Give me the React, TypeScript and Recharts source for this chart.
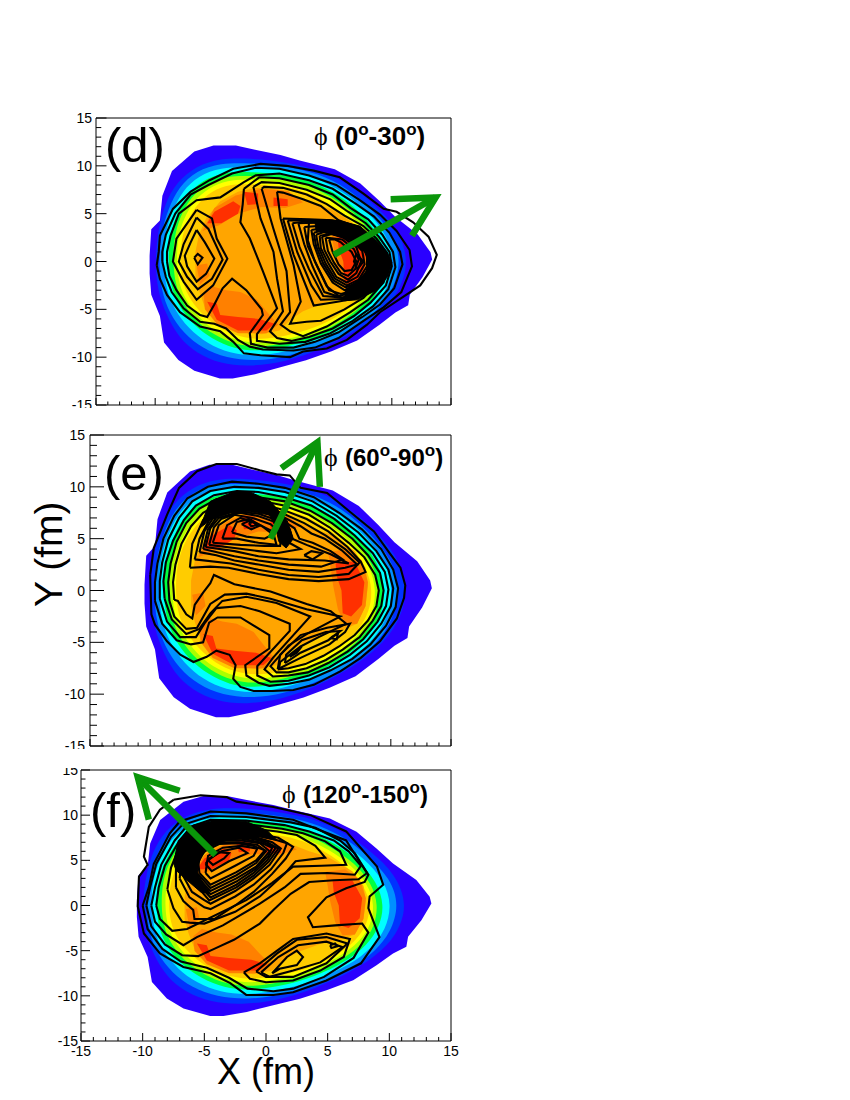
import { ScatterChart, Scatter, XAxis, YAxis, ReferenceArea } from 'recharts';

type Loop = number[][];

const AXIS_TICKS = [-15, -14, -13, -12, -11, -10, -9, -8, -7, -6, -5, -4, -3, -2, -1, 0, 1, 2, 3, 4, 5, 6, 7, 8, 9, 10, 11, 12, 13, 14, 15];
const MAJOR_TICKS = [-15, -10, -5, 0, 5, 10, 15];

// Colour bands of the density map, outermost first (same in the three panels)
const bandColors = ['#2a00ff', '#0033ff', '#0090ff', '#00ffff', '#00ff40', '#aaff00', '#ffff00', '#ffcc00'];
const bandLoops: Loop[] = [
  [[-10.47,-1.26],[-10.33,-3.47],[-9.6,-5.69],[-9.25,-8.46],[-8.04,-10.3],[-6.69,-11.41],[-4.53,-12.23],[-3.45,-12.23],[-1.56,-11.78],[0.59,-11.05],[2.75,-10.31],[4.91,-9.38],[7.07,-8.27],[8.96,-6.61],[10.3,-5.32],[11.38,-4.58],[11.52,-3.47],[12.6,-1.63],[13.41,0.22],[13.27,0.96],[12.19,2.81],[10.3,4.65],[8.96,6.32],[7.34,8.16],[5.18,9.64],[2.21,10.56],[0.59,11.12],[-1.56,11.67],[-3.18,12.12],[-5.07,12.12],[-6.69,11.49],[-8.58,9.46],[-9.39,6.87],[-9.6,4.29],[-10.33,3.36],[-10.47,0.59]],
  [[11.5,0],[10.5,3.5],[8.5,6],[6.5,8],[4,9.6],[1,10.4],[-2,10.8],[-4.5,10.8],[-6.5,10],[-8.2,8.3],[-9.2,6],[-9.8,3],[-10,0],[-9.8,-3],[-9.1,-5.5],[-8,-8],[-6.5,-9.6],[-4.5,-10.7],[-2,-11],[1,-10.5],[4,-9.2],[7,-7.3],[9,-5.5],[10.6,-3.3]],
  [[10.8,0],[10.1,3],[8.2,5.6],[6.2,7.7],[3.8,9.2],[1,10],[-2,10.3],[-4.5,10.3],[-6.5,9.5],[-8,7.8],[-8.9,5.5],[-9.5,3],[-9.7,0],[-9.5,-3],[-8.8,-5.4],[-7.6,-7.5],[-6,-9.1],[-4,-10.1],[-1.5,-10.4],[1,-10],[4,-8.8],[7,-7],[8.9,-5],[10.1,-3]],
  [[10.2,0],[9.6,2.8],[7.9,5.3],[5.9,7.3],[3.6,8.8],[1,9.6],[-2,9.9],[-4.5,9.8],[-6.3,9],[-7.7,7.4],[-8.6,5.2],[-9.2,2.8],[-9.3,0],[-9.1,-2.8],[-8.4,-5],[-7.2,-7],[-5.6,-8.6],[-3.7,-9.6],[-1.5,-9.9],[1,-9.5],[4,-8.3],[6.8,-6.6],[8.6,-4.7],[9.7,-2.7]],
  [[9.6,0],[9,2.6],[7.5,5],[5.6,6.9],[3.4,8.3],[1,9.1],[-2,9.4],[-4.3,9.3],[-6,8.5],[-7.3,7],[-8.2,4.9],[-8.8,2.6],[-8.9,0],[-8.7,-2.6],[-8,-4.7],[-6.8,-6.6],[-5.2,-8.1],[-3.4,-9.1],[-1.4,-9.4],[1,-9],[4,-7.9],[6.5,-6.2],[8.2,-4.4],[9.2,-2.4]],
  [[9.1,0],[8.6,2.4],[7.2,4.7],[5.3,6.5],[3.2,7.9],[1,8.7],[-2,9],[-4.1,8.9],[-5.7,8.1],[-7,6.7],[-7.9,4.7],[-8.4,2.5],[-8.5,0],[-8.3,-2.5],[-7.6,-4.5],[-6.5,-6.3],[-5,-7.7],[-3.2,-8.7],[-1.3,-9],[1,-8.6],[3.8,-7.6],[6.3,-5.9],[7.9,-4.2],[8.8,-2.3]],
  [[8.8,0],[8.3,2.3],[6.9,4.5],[5.1,6.2],[3.1,7.5],[1,8.3],[-2,8.6],[-3.9,8.5],[-5.5,7.7],[-6.7,6.4],[-7.6,4.5],[-8.1,2.4],[-8.2,0],[-8,-2.4],[-7.3,-4.3],[-6.2,-6],[-4.8,-7.4],[-3,-8.3],[-1.2,-8.6],[1,-8.2],[3.6,-7.3],[6,-5.7],[7.6,-4],[8.5,-2.2]],
  [[8.5,0],[8,2.2],[6.6,4.3],[4.9,5.9],[3,7.2],[1,7.9],[-2,8.1],[-3.7,8.1],[-5.2,7.4],[-6.4,6.1],[-7.3,4.3],[-7.8,2.3],[-7.9,0],[-7.7,-2.3],[-7,-4.1],[-5.9,-5.7],[-4.6,-7],[-2.9,-7.9],[-1.1,-8.2],[1,-7.8],[3.5,-7],[5.8,-5.5],[7.3,-3.9],[8.2,-2.1]],
];
const orangeArea: Loop = [[-6.6,1],[-6.6,-1.5],[-6.3,-3],[-5.8,-4.8],[-4.8,-6.3],[-3,-7.3],[-1,-7.6],[0.5,-7.2],[1.5,-6],[2.5,-5.2],[4.5,-4.2],[6,-3.8],[7.2,-3.2],[7.9,-1.5],[8.1,0.5],[7.9,2.2],[7,3.8],[6,4.6],[5,5.4],[3.5,6],[2,6.8],[0.5,7.5],[-1.5,7.7],[-3,7.3],[-4.5,6.3],[-5.7,4.5],[-6.3,2.8]];
const darkOrangeAreas: Loop[] = [
  [[-5.9,-3.4],[-5.2,-2.6],[-4,-3],[-2.8,-3.2],[-1.4,-4],[-0.6,-5.2],[0.4,-6.6],[-0.6,-7.5],[-3,-7.5],[-4.8,-6.5],[-5.8,-5]],
  [[4.8,3.7],[6.4,4],[7.6,2.9],[8.1,0.8],[7.9,-1.5],[7.2,-3.2],[6.2,-3.3],[5.6,-1.8],[5.2,0.5],[5,2.2]],
  [[-6,3.2],[-5,5.6],[-3.2,6.9],[-1,7.6],[1.2,7.4],[2.5,6.2],[1,5.6],[-1,5.7],[-3,5],[-4.6,3.8]],
  [[-6.5,-0.4],[-5.6,-0.2],[-5.4,-1.5],[-6.2,-2.4]],
];
const redAreas: Loop[] = [
  [[-5.6,-4.2],[-4.8,-4.4],[-4.5,-5.6],[-3,-5.8],[-1.2,-6],[0.1,-6.5],[-0.6,-7.2],[-3,-7.2],[-4.8,-6.1]],
  [[5.4,2.7],[7,2.8],[7.8,0.8],[7.6,-1.4],[6.7,-2.5],[6,-2.2],[5.9,0],[5.5,1.4]],
  [[-5.6,4],[-5,5.2],[-3.4,6.3],[-2.8,5.8],[-3,5],[-4.4,4]],
  [[-2.5,7.3],[-1.3,7.1],[-1.3,6],[-2.2,5.9]],
  [[0,6.7],[1.2,6.5],[1.2,5.8],[0,5.8]],
];

// Panel (d) contours
const dDense: Loop = [[3.5,4.2],[5.5,4.3],[7.3,3.7],[8.6,2.3],[9.6,1],[10,-0.1],[9.7,-1.5],[8.7,-3],[7.1,-4],[6,-4.1],[6.1,-2.9],[7,-2.1],[7.8,-1.2],[8,0],[7.7,1],[6.9,1.9],[5.8,2.5],[4.6,2.9],[3.6,3.2]];
const dLoops: Loop[] = [
  [[-9.87,-0.4],[-9.6,-1.8],[-9,-3.5],[-7.9,-5.3],[-6.2,-6.8],[-4.5,-7.3],[-3.4,-8.4],[-2.5,-9.6],[-1.1,-9.8],[1.4,-10],[2.5,-9.4],[4.5,-9.1],[6.2,-8.2],[7.9,-6.6],[9,-5.3],[10.7,-3.9],[12.4,-2.5],[13.4,-0.7],[13.8,0.7],[13.1,2.6],[11.8,4.1],[10.4,5.2],[9.3,5.5],[7.6,7.1],[5.6,8.8],[3.4,9.5],[1.1,10],[-1.1,10.2],[-3.4,9.7],[-5.4,8.5],[-7,7.3],[-8.5,5.5],[-9.6,2.7],[-9.7,1],[-9.87,-0.4]],
  [[-9.4,0],[-9.1,-1.6],[-8.6,-3.2],[-7.6,-4.9],[-6.2,-6.3],[-5,-6.5],[-4,-7],[-3,-8.2],[-2,-8.9],[-0.9,-9.2],[1.7,-9.3],[3.5,-9],[5.5,-8],[7.6,-6.2],[9.3,-4.8],[10.8,-3.2],[11.7,-0.5],[11.5,1.2],[10.4,3.2],[9,4.9],[7.2,6.5],[5.3,8],[3,9],[0.5,9.7],[-1.5,9.8],[-3.5,9.2],[-5.5,8],[-7,7],[-8.3,5],[-9.1,2.8],[-9.4,1],[-9.4,0]],
  [[-9,0],[-8.8,-1.5],[-8.2,-3],[-7.3,-4.6],[-6.2,-5.6],[-5.6,-5.8],[-5,-4.5],[-4.3,-2.8],[-3.5,-1.8],[-2.3,-3],[-1,-5],[-0.9,-5.6],[-2,-7.5],[-1.9,-8.6],[-0.5,-9],[1.7,-9],[3.5,-8.4],[5.5,-7.4],[7.5,-5.8],[9,-4.5],[10.2,-2.8],[10.9,-0.3],[10.7,1],[9.8,3],[8.5,4.7],[7,6],[5,7.6],[3,8.5],[0.5,9.2],[-1.5,9],[-2.5,8.3],[-4.5,6.7],[-6.5,6.4],[-8,5],[-8.7,2.7],[-9,1],[-9,0]],
  [[-2.5,7.6],[-2.6,6],[-2.8,4.1],[-2,2.4],[-0.9,-1],[0.3,-4.9],[-1.4,-7.6],[-1.4,-8.3],[0.5,-8.6],[2.7,-8.4],[4.8,-7.5],[6.7,-6.2],[8.4,-4.7],[9.7,-2.9],[10.3,-0.6],[10.1,1],[9.2,2.8],[8,4.4],[6.5,5.6],[5,7],[3,8],[0.5,8.7],[-1.2,8.8],[-2.5,7.6]],
  [[-1.7,7.8],[-1.1,4.5],[0,1],[0.3,-1.8],[0.8,-5.2],[-0.3,-7.3],[0.3,-8],[1.5,-8.3],[3,-7.9],[5,-7],[6.8,-5.7],[8.2,-4.3],[9.5,-2.5],[10,-0.5],[9.8,1],[8.9,2.6],[7.8,4],[6.3,5.2],[4.8,6.5],[2.8,7.5],[0.5,8.2],[-1,8.3],[-1.7,7.8]],
  [[-1,7.6],[0,3.4],[1.1,-1],[1.4,-5.3],[0.6,-6.6],[1.4,-7.3],[2.5,-7.8],[4.5,-6.8],[6.5,-5.3],[8,-4],[9.3,-2.2],[9.8,-0.4],[9.6,0.9],[8.7,2.4],[7.6,3.7],[6,4.8],[4.5,6],[2.8,7],[0.8,7.7],[-0.8,7.8],[-1,7.6]],
  [[0.3,7.3],[0.6,4.5],[1.7,-0.4],[2.3,-4.2],[1.4,-6.5],[2.8,-6.3],[4,-6.2],[6,-5],[7.6,-3.8],[9,-2],[9.6,-0.3],[9.4,0.8],[8.5,2.2],[7.3,3.5],[5.5,4.3],[4,5.8],[2.5,6.5],[0.8,7.2],[0.3,7.3]],
  [[0.8,4.5],[1.7,0.7],[3.4,-4.6],[5.4,-4.2],[6.8,-3.9],[8.6,-2],[9.4,-0.2],[9.1,1],[8.2,2.4],[7,3.7],[5,4.3],[3,4.4],[0.8,4.5]],
  [[1.2,4.3],[2,1],[3.2,-2.5],[4,-4],[6.5,-3.9],[8.4,-2],[9.2,-0.2],[9,1],[8.1,2.4],[6.9,3.7],[4.7,4.3],[2.9,4.3],[1.2,4.3]],
  [[1.6,4],[2.2,1.5],[3,-0.8],[4.2,-3.6],[6.2,-3.8],[8.2,-2],[9,-0.3],[8.8,1],[8,2.3],[6.8,3.6],[4.5,4.2],[2.8,4.2],[1.6,4]],
  [[2.1,4],[2.6,1.8],[3.3,-0.5],[4.3,-3.2],[5.8,-3.8],[7.7,-2.7],[8.8,-1],[8.9,0.5],[8.1,2],[6.9,3.4],[4.8,4.1],[2.1,4]],
  [[2.6,3.6],[2.9,1.6],[3.7,-0.5],[4.7,-3],[5.7,-3.4],[7.1,-2.9],[8.3,-1.3],[8.6,0.2],[8,1.7],[6.8,3.1],[4.8,3.8],[2.6,3.6]],
  [[3,4.1],[2.9,2.2],[3.5,0],[4.5,-2.6],[5.5,-3.6],[7,-3.2],[8.4,-1.6],[8.7,0],[8.3,1.6],[7,3.3],[5,4],[3,4.1]],
  [[3.2,3.3],[3.4,1.8],[4,-0.2],[5,-2.2],[6,-3],[7.3,-2.5],[8.2,-1],[8.4,0.3],[7.8,1.8],[6.6,3],[4.8,3.6],[3.2,3.3]],
  [[3.4,3],[3.6,1.6],[4.2,-0.2],[5.1,-2],[6.1,-2.7],[7.2,-2.2],[8,-0.8],[8.1,0.5],[7.4,2],[6.2,3],[4.6,3.4],[3.4,3]],
  [[3.6,2.8],[3.8,1.5],[4.4,-0.2],[5.2,-1.8],[6.2,-2.5],[7.2,-1.9],[7.9,-0.5],[7.9,0.8],[7,2.2],[5.8,3],[4.5,3.2],[3.6,2.8]],
  [[3.9,2.7],[4,1.4],[4.6,-0.1],[5.3,-1.6],[6.2,-2.2],[7.1,-1.6],[7.7,-0.3],[7.5,1.1],[6.5,2.4],[5.4,3],[3.9,2.7]],
  [[4.1,2.6],[4.3,1.2],[4.8,0],[5.5,-1.3],[6.3,-1.9],[7,-1.2],[7.4,0],[7,1.5],[5.9,2.5],[5,2.9],[4.1,2.6]],
  [[4.4,2.5],[4.6,1.1],[5.1,-0.1],[5.7,-1.2],[6.3,-1.5],[6.9,-0.8],[7.2,0.2],[6.8,1.3],[5.8,2.3],[4.4,2.5]],
  [[4.7,2.3],[5,1],[5.5,-0.3],[6,-1],[6.6,-0.9],[7,0],[6.6,1],[5.7,2],[5.2,2.3],[4.7,2.3]],
  [[7,0.8],[6.8,0],[7.1,-0.8],[7.6,0],[7,0.8]],
  [[-6.5,5.4],[-5.2,4.5],[-4.8,2.4],[-3.9,0.3],[-5.1,-2.5],[-6.5,-4],[-7.6,-2.1],[-8.5,0],[-8.2,2.4],[-6.5,5.4]],
  [[-6.5,4.6],[-5.5,3.4],[-4.6,1],[-4.3,0.2],[-5.2,-1.8],[-6.4,-2.9],[-7.3,-1.6],[-8,0],[-7.6,1.8],[-6.5,4.6]],
  [[-6.5,3.3],[-5.8,2],[-5,0.3],[-5.7,-1.3],[-6.5,-2.1],[-7.3,-0.5],[-7.5,0.6],[-7,2],[-6.5,3.3]],
  [[-6.7,0.4],[-6.4,0.8],[-6,0.4],[-6.4,-0.3],[-6.7,0.4]],
];
const dArrow: Loop[] = [[[5.1,0.7],[13.7,6.7]], [[9.9,6.5],[13.7,6.7],[11.7,2.7]]];

// Panel (e) contours
const eDense: Loop = [[-5.9,6],[-5,8.6],[-3.1,9.5],[-1.7,9.5],[0,8.6],[1.4,6.7],[1.9,5],[1.3,4.1],[0.7,4.7],[0.4,6.2],[-0.1,7.3],[-1.7,7.6],[-3.3,7.5],[-5,6.8]];
const eLoops: Loop[] = [
  [[-10,1.5],[-9.7,4.1],[-8.6,7.3],[-7.6,9.9],[-6.1,11.5],[-4.5,12.2],[-2.8,12.2],[-0.9,11.6],[0.5,11.2],[1.6,11.1],[2.5,9.9],[4.7,9.4],[6.6,7.6],[8.6,5.7],[9.9,3.6],[10.8,2.2],[11.2,0.5],[11.1,-0.7],[10.5,-2.7],[9.1,-4.9],[7.5,-6.5],[5.8,-7.8],[3.6,-9.1],[1.9,-9.6],[0.2,-9.7],[-1.4,-9.7],[-2.5,-9.3],[-3.1,-8.5],[-2.9,-7.2],[-3.4,-6.2],[-4.5,-5.8],[-5.3,-6.4],[-6.4,-6.9],[-7.5,-6.2],[-8.6,-4.9],[-9.6,-3.3],[-9.9,-2.3],[-10,1.5]],
  [[-9.6,-1],[-9.6,0.8],[-9.4,2.6],[-8.9,5],[-8,7.2],[-6.9,8.9],[-5.2,10],[-3.2,10.5],[-1,10.3],[1.2,9.9],[3.6,9],[5.7,7.5],[7.6,5.9],[9.2,4],[10.2,2],[10.6,0.2],[10.4,-1.6],[9.6,-3.4],[8.3,-5.2],[6.8,-6.6],[5,-7.7],[3.2,-8.6],[1.5,-9],[-0.1,-9.2],[-1,-8.9],[-2,-8.2],[-2.1,-7.2],[-0.1,-5.6],[-0.1,-4.3],[-2.5,-2.6],[-4.4,-2.6],[-5.1,-3.1],[-5.6,-5],[-6.6,-5.2],[-7.8,-4.8],[-9,-3.2],[-9.6,-1]],
  [[-9.2,-0.8],[-9.2,0.9],[-9,2.7],[-8.5,4.9],[-7.6,7],[-6.5,8.6],[-5,9.6],[-3,10],[-1,9.9],[1.2,9.5],[3.5,8.6],[5.5,7.2],[7.3,5.6],[8.8,3.8],[9.8,2],[10.2,0.2],[10,-1.5],[9.2,-3.2],[8,-4.9],[6.6,-6.2],[4.9,-7.4],[3.2,-8.2],[1.5,-8.7],[0,-8.8],[-1.1,-8.2],[-1.1,-7.3],[1.6,-3.9],[1.6,-3.2],[-0.9,-2],[-2.5,-1.5],[-4.5,-1.7],[-5.5,-3.2],[-6.2,-4.5],[-7.5,-4.5],[-8.6,-3],[-9.2,-0.8]],
  [[-8.8,-0.8],[-8.9,0.9],[-8.7,2.7],[-8.1,4.8],[-7.2,6.8],[-6.2,8.2],[-4.7,9.2],[-2.8,9.6],[-1,9.5],[1.2,9],[3.4,8.2],[5.3,6.9],[7,5.3],[8.5,3.6],[9.5,1.8],[9.8,0.1],[9.6,-1.5],[8.9,-3],[7.7,-4.7],[6.4,-5.9],[4.8,-7],[3.1,-7.9],[1.5,-8.2],[0.2,-8.3],[-0.5,-7.6],[0.2,-6.5],[3.3,-2.5],[0.5,-1.2],[-2,-0.6],[-4,-1],[-5,-2.2],[-5.9,-3.7],[-7,-4.2],[-8.2,-2.8],[-8.8,-0.8]],
  [[-8.4,-1],[-8.5,0.8],[-8.3,2.6],[-7.8,4.7],[-7,6.5],[-5.9,7.9],[-4.5,8.8],[-2.6,9.2],[-1,9],[1.2,8.6],[3.3,7.7],[5.1,6.5],[6.8,5],[8.1,3.4],[9.1,1.7],[9.4,0],[9.2,-1.5],[8.5,-2.9],[7.4,-4.5],[6,-5.7],[4.6,-6.7],[3,-7.5],[1.5,-7.9],[0.5,-7.9],[0,-7.3],[1.5,-5.3],[3,-4.2],[5.8,-2.5],[3,-1.8],[0,-0.8],[-2,-0.3],[-3.8,-0.4],[-5,-1.3],[-6.1,-3.6],[-7,-3.7],[-8,-2.5],[-8.4,-1]],
  [[-8,-0.9],[-8.1,0.8],[-7.9,2.5],[-7.4,4.5],[-6.6,6.2],[-5.6,7.5],[-4.2,8.4],[-2.4,8.8],[-1,8.7],[1.1,8.2],[3.2,7.3],[4.9,6.1],[6.5,4.6],[7.8,3.2],[8.7,1.5],[9,0],[8.8,-1.5],[8.1,-2.9],[7,-4.3],[5.7,-5.4],[4.4,-6.3],[2.9,-7.1],[1.5,-7.5],[0.7,-7.6],[0.8,-6.9],[2.5,-5.4],[4,-4.5],[6.3,-3.2],[5,-2],[3,-1.3],[0,-0.1],[-3,0.6],[-4.7,1.5],[-5,0.7],[-5.6,-0.2],[-6.3,-1.4],[-6.5,-2.7],[-7,-2.3],[-7.7,-1],[-8,-0.9]],
  [[-6.7,2.2],[-6.5,4.5],[-5.6,6.8],[-4.4,8.1],[-2.4,8.5],[-0.9,8.4],[1,7.8],[3,6.9],[4.8,5.7],[6.4,4.2],[7.5,2.8],[7.9,1.8],[6.5,1.1],[4,0.9],[1.5,1.1],[-1,1.6],[-3.5,2.2],[-5,2.3],[-6.7,2.2]],
  [[-6.3,3],[-5.9,5],[-5,7],[-3.5,8],[-1.5,8.2],[0.9,7.5],[2.8,6.5],[4.6,5.3],[6.2,4],[7.4,2.7],[6.5,1.6],[4,1.3],[1.5,1.5],[-1,2],[-3.3,2.6],[-6.3,3]],
  [[-5.9,3.7],[-5.5,5.7],[-4.6,7.3],[-2.6,8],[-0.9,8],[0.9,7.2],[2.5,6.2],[3.4,5.5],[4.5,5],[5.9,3.9],[7.2,2.5],[6.2,2.2],[4,1.8],[1.5,2],[-1,2.5],[-3,2.9],[-4.5,3.4],[-5.9,3.7]],
  [[-5.6,4],[-5.2,5.9],[-4.4,7.2],[-2.6,7.8],[-1,7.7],[0.7,7],[2,6],[2.4,5],[3.5,4.6],[5,3.8],[6,3],[4.2,2.3],[1.5,2.5],[-1,2.9],[-3,3.3],[-5.6,4]],
  [[-5.4,4.2],[-5,6],[-4.3,7],[-2.6,7.6],[-1,7.4],[0.5,6.8],[1.6,5.9],[1.8,5],[3,4.4],[5,3.5],[6.5,2.6],[4.5,2.9],[1.5,3],[-1,3.3],[-3,3.8],[-5.4,4.2]],
  [[-5.1,4.4],[-4.7,6.1],[-4.1,6.9],[-2.6,7.5],[-1.1,7.2],[0.4,6.6],[1.3,5.7],[1.4,4.7],[2.5,4],[0.5,3.6],[-1,3.8],[-3,4.1],[-5.1,4.4]],
  [[2.8,3.4],[3.5,3],[4.3,3.6],[3.4,3.8],[2.8,3.4]],
  [[-4.8,4.6],[-4.3,6.3],[-3,7.3],[-1.5,7],[0,6.4],[0.9,5.5],[0.8,4.3],[-0.5,4.3],[-2.5,4.4],[-4.8,4.6]],
  [[-4,5],[-3.6,6.3],[-2.5,7],[-1.2,6.5],[0.2,5.7],[0.5,4.4],[-1,4.6],[-2.8,5],[-4,5]],
  [[-3.2,5.6],[-2.8,6.6],[-1.8,6.9],[-0.7,6.2],[0.2,5.4],[-0.5,5],[-2,5.2],[-3.2,5.6]],
  [[-2.4,6.4],[-1.6,6.8],[-1,6.2],[-1.6,5.9],[-2.4,6.4]],
  [[-1.8,6.5],[-1.4,6.6],[-1.2,6.3],[-1.6,6.2],[-1.8,6.5]],
  [[0.6,-7.6],[2.5,-6.5],[4.9,-5.2],[6.2,-4],[6.6,-3.2],[4.7,-3.6],[2.5,-4.3],[0.8,-6.2],[0.6,-7.6]],
  [[1.2,-7],[2.5,-6],[4.8,-4.8],[5.8,-3.9],[4.6,-4],[2.6,-4.8],[1.3,-6.2],[1.2,-7]],
  [[1.6,-6.4],[2.6,-5.4],[2.2,-6],[1.6,-6.4]],
  [[5.2,-4.4],[5.6,-4.2],[5.5,-4.7],[5,-4.6],[5.2,-4.4]],
];
const eArrow: Loop[] = [[[0,5],[3.9,14.3]], [[0.9,11.8],[3.9,14.3],[4.1,10]]];

// Panel (f) contours
const fDense: Loop = [[-7.5,4.7],[-7.1,7.2],[-5.9,8.9],[-4,9.5],[-1.6,9.3],[0.1,8.3],[0.9,7.2],[-0.5,7.6],[-3.2,7.2],[-4.5,6.5],[-5.3,5.4],[-5.6,3.6],[-4.8,1.9],[-4.5,1.3],[-5.3,1.5],[-6.4,2.8],[-7.3,3.9]];
const fLoops: Loop[] = [
  [[-7.5,11.7],[-5.3,12.2],[-3.2,12],[-2.4,11.5],[0.6,10.9],[3.6,10],[6.5,8.2],[9,4.3],[9.5,2.3],[8.4,1],[8.3,-0.3],[9.2,-3.5],[7.7,-6.4],[4.9,-8.3],[2.2,-9.6],[0.6,-9.9],[-1.6,-9.9],[-2.9,-8.6],[-4.5,-7.5],[-6.7,-6.8],[-8.6,-5.3],[-9.9,-3.1],[-10.4,-0.1],[-10.3,3.2],[-9.6,4.5],[-9.9,5.4],[-9.5,8.7],[-8.6,10.6],[-7.5,11.7]],
  [[-10,0],[-9.6,-2.6],[-8.4,-4.8],[-6.9,-6.2],[-4.8,-6.9],[-3,-8],[-1.5,-9.2],[0.6,-9.5],[2.2,-9.2],[4.7,-7.9],[7.1,-5.8],[8.3,-3],[7.8,-2],[5.6,-2.2],[3.8,-2.4],[3.4,-1.3],[4.9,0.9],[6.5,1.9],[8,2.6],[8.3,3.4],[7.7,4.6],[6.5,7.2],[2.2,9.5],[-1.6,10.2],[-4.5,10.4],[-7,9.3],[-7.8,8],[-9.1,4.6],[-9.5,2],[-10,0]],
  [[-9.7,0],[-9.3,-2.3],[-8.2,-4.3],[-6.8,-5.5],[-5.5,-5.6],[-4.2,-4.8],[-2.6,-3.8],[-0.5,-2],[0.6,-0.5],[2,1.3],[3.5,2.6],[5.5,2.8],[7.5,2.9],[8.2,3.6],[7.2,5.8],[6,7.2],[4,8.6],[2,9.2],[-1.6,9.8],[-4.5,9.9],[-6.8,8.9],[-7.7,7.6],[-8.9,4.6],[-9.4,2],[-9.7,0]],
  [[-9.3,0],[-9,-1.8],[-8.1,-3.2],[-6.7,-4.4],[-5.6,-3.5],[-3.5,-2.2],[-0.5,0.2],[1.5,2],[2.8,3.5],[5,3.6],[7.2,3.4],[7.7,4.4],[6.7,6],[5.5,7.2],[3.5,8.2],[1.5,8.9],[-1.6,9.4],[-4.5,9.5],[-6.6,8.5],[-7.4,7.2],[-8.5,4.5],[-9,2],[-9.3,0]],
  [[-8.9,0],[-8.6,-1.5],[-7.6,-2.8],[-6.4,-2.6],[-1.6,0.6],[0.5,2.5],[2.2,4.3],[4.5,4.4],[6.5,4.5],[6,6],[4.8,7.1],[3,8],[1.3,8.5],[-1.6,9],[-4.4,9.1],[-6.4,8.2],[-7.1,7],[-8.2,4.4],[-8.7,2],[-8.9,0]],
  [[-8,1.8],[-7.5,-0.3],[-6.8,-1.8],[-6.2,-1.9],[-5,-2],[-2.5,-0.7],[-0.5,1],[1.5,3.5],[2.4,4.9],[4.8,5.3],[4,6.6],[2.5,7.8],[0.9,8.2],[-1.6,8.6],[-4.3,8.7],[-6.2,7.8],[-7,6.6],[-7.7,4.2],[-8,1.8]],
  [[-7.3,2],[-6.7,0.5],[-5.9,-0.5],[-5.8,-1.5],[-4.2,-1.5],[-2.5,0],[-1,1.5],[0.5,3.5],[1.6,5.2],[2.2,6.5],[1,7.5],[-1.6,8.2],[-4.1,8.3],[-6,7.5],[-6.9,6.2],[-7.3,4],[-7.3,2]],
  [[-7,3],[-6.2,0.9],[-5,-0.2],[-4.5,-0.4],[-2.5,1],[-1,2.3],[0.4,4],[1.4,5.8],[1.7,6.9],[0.7,7.3],[-1.6,8],[-4,8.2],[-5.9,7.4],[-6.8,6],[-7,3]],
  [[-6.8,3.5],[-6,1.5],[-5,0.6],[-4.5,0.2],[-2.5,1.6],[-1,3],[0.3,4.5],[1.2,6.3],[0.5,7],[-1.6,7.9],[-4,8],[-5.8,7.2],[-6.6,5.8],[-6.8,3.5]],
  [[-6.5,3.6],[-4.6,0.55],[-2.4,2],[-1,3.3],[0.2,4.8],[1,6.3],[0,7.1],[-2,7.8],[-4,7.8],[-5.7,7],[-6.4,5.6],[-6.5,3.6]],
  [[-6.3,3.6],[-4.5,0.9],[-2.4,2.3],[-1,3.6],[0.1,5],[0.8,6.4],[-0.5,7.2],[-2,7.6],[-4,7.6],[-5.6,6.8],[-6.2,5.4],[-6.3,3.6]],
  [[-6,3.5],[-4.5,1.25],[-2.4,2.65],[-0.9,4],[0.2,5.5],[0.5,6.4],[-0.5,7],[-2,7.4],[-4,7.4],[-5.4,6.5],[-6,5.2],[-6,3.5]],
  [[-5.8,3.5],[-4.5,1.6],[-2.4,3],[-0.8,4.3],[0.3,6],[-0.5,6.9],[-2,7.2],[-4,7.2],[-5.3,6.3],[-5.9,5],[-5.8,3.5]],
  [[-5.6,3.6],[-4.5,1.95],[-2.4,3.35],[-0.8,4.7],[0,6],[-0.7,6.7],[-2.2,7],[-3.9,7],[-5.2,6.1],[-5.7,4.9],[-5.6,3.6]],
  [[-5.4,3.6],[-4.5,2.3],[-2.4,3.7],[-0.8,5],[-0.1,6.1],[-1,6.6],[-2.3,6.9],[-3.8,6.8],[-5,6],[-5.5,4.8],[-5.4,3.6]],
  [[-4.9,3.6],[-4.5,3],[-2.5,4.4],[-1,5.5],[-0.7,6.3],[-2,6.6],[-3.5,6.4],[-4.7,5.5],[-4.9,3.6]],
  [[-4.9,4.6],[-4.4,3.8],[-3,4.9],[-1.5,5.8],[-2.2,6.4],[-3.6,6],[-4.6,5.2],[-4.9,4.6]],
  [[-4.7,5],[-4.3,4.5],[-3.4,5.2],[-3,5.8],[-3.8,5.9],[-4.7,5]],
  [[-1.8,-7.4],[-0.5,-6.4],[0.9,-5],[2.2,-3.7],[4.9,-3.1],[6.8,-3.7],[6.3,-5.7],[4.4,-7.2],[2.2,-8.3],[0,-8.5],[-1.3,-8.1],[-1.8,-7.4]],
  [[-0.8,-7.3],[0.9,-5.3],[2.5,-3.8],[4.9,-3.5],[6.6,-4.2],[4.9,-6.4],[2.2,-7.9],[0,-7.9],[-0.8,-7.3]],
  [[-0.4,-7.4],[1,-5.7],[2.6,-4.4],[4.9,-4],[6.2,-4.6],[4.4,-6.3],[2.2,-7.2],[0.3,-7.9],[-0.4,-7.4]],
  [[0.5,-7.5],[1.7,-5.7],[2.5,-5],[3,-5.7],[2.5,-6.6],[1.1,-7],[0.5,-7.5]],
  [[5.2,-4.4],[5.6,-4.2],[5.8,-4.5],[5.3,-4.7],[5.2,-4.4]],
];
const fArrow: Loop[] = [[[-4.1,5.6],[-10.4,14.2]], [[-7,12.7],[-10.4,14.2],[-9.5,9.5]]];

const toPoints = (loop: Loop) => loop.map(([x, y]) => ({ x, y }));
const NoPoint = () => null;
const FONT = '"Liberation Sans", Arial, sans-serif';

interface PanelProps {
  top: number;
  height: number;
  plotLeft: number;
  plotTop: number;
  plotBottom: number;
  yMajor: number;
  xMajor: number;
  labelGap: number;
  showX: boolean;
  dense: Loop;
  loops: Loop[];
  arrow: Loop[];
}

const Panel = ({ top, height, plotLeft, plotTop, plotBottom, yMajor, xMajor, labelGap, showX, dense, loops, arrow }: PanelProps) => {
  const renderYTick = ({ x, y, payload }: any) => {
    const major = MAJOR_TICKS.includes(payload.value);
    return (
      <g>
        <line x1={x} x2={x + (major ? yMajor : yMajor / 2)} y1={y} y2={y} stroke="#000" />
        {major && (
          <text x={x - labelGap} y={y + 5} textAnchor="end" fontSize={14} fontFamily={FONT} fill="#000">{payload.value}</text>
        )}
      </g>
    );
  };
  const renderXTick = ({ x, y, payload }: any) => {
    const major = MAJOR_TICKS.includes(payload.value);
    return (
      <g>
        <line x1={x} x2={x} y1={y} y2={y - (major ? xMajor : xMajor / 2)} stroke="#000" />
        {major && showX && (
          <text x={x} y={y + 15} textAnchor="middle" fontSize={14} fontFamily={FONT} fill="#000">{payload.value}</text>
        )}
      </g>
    );
  };

  return (
    <div style={{ position: 'absolute', left: 0, top, width: 480, height, overflow: 'hidden', background: '#fff' }}>
      <ScatterChart
        width={480}
        height={height}
        margin={{ top: plotTop - top, left: plotLeft - 40, right: 29, bottom: top + height - plotBottom - 1 }}
      >
        <XAxis
          type="number"
          dataKey="x"
          domain={[-15, 15]}
          ticks={AXIS_TICKS}
          interval={0}
          height={1}
          axisLine={false}
          tickLine={false}
          tickSize={0}
          tickMargin={0}
          tick={renderXTick}
        />
        <YAxis
          type="number"
          dataKey="y"
          domain={[-15, 15]}
          ticks={AXIS_TICKS}
          interval={0}
          width={40}
          axisLine={false}
          tickLine={false}
          tickSize={0}
          tickMargin={0}
          tick={renderYTick}
        />
        {bandLoops.map((loop, i) => (
          <Scatter key={`band-${i}`} data={toPoints(loop)} shape={NoPoint} isAnimationActive={false}
            line={{ fill: bandColors[i], stroke: 'none' }} lineJointType={i === 0 ? 'linearClosed' : 'basisClosed'} />
        ))}
        <Scatter data={toPoints(orangeArea)} shape={NoPoint} isAnimationActive={false}
          line={{ fill: '#ffa500', stroke: 'none' }} lineJointType="linearClosed" />
        {darkOrangeAreas.map((loop, i) => (
          <Scatter key={`dark-${i}`} data={toPoints(loop)} shape={NoPoint} isAnimationActive={false}
            line={{ fill: '#ff8000', stroke: 'none' }} lineJointType="linearClosed" />
        ))}
        {redAreas.map((loop, i) => (
          <Scatter key={`red-${i}`} data={toPoints(loop)} shape={NoPoint} isAnimationActive={false}
            line={{ fill: '#ff3000', stroke: 'none' }} lineJointType="linearClosed" />
        ))}
        <Scatter data={toPoints(dense)} shape={NoPoint} isAnimationActive={false}
          line={{ fill: '#000', stroke: '#000', strokeWidth: 1 }} lineJointType="linearClosed" />
        {loops.map((loop, i) => (
          <Scatter key={`line-${i}`} data={toPoints(loop)} shape={NoPoint} isAnimationActive={false}
            line={{ stroke: '#000', strokeWidth: 2.1, fill: 'none' }} />
        ))}
        {arrow.map((seg, i) => (
          <Scatter key={`arrow-${i}`} data={toPoints(seg)} shape={NoPoint} isAnimationActive={false}
            line={{ stroke: '#0a960a', strokeWidth: 6.5, fill: 'none' }} />
        ))}
        <ReferenceArea x1={-15} x2={15} y1={-15} y2={15} fill="none" stroke="#000" strokeWidth={1} />
      </ScatterChart>
    </div>
  );
};

const PhiTitle = ({ phiX, x, y, size, from, to }: { phiX: number; x: number; y: number; size: number; from: string; to: string }) => (
  <>
    <text x={phiX} y={y} fontSize={26} fontFamily='"Liberation Serif", serif' fill="#000">ϕ</text>
    <text x={x} y={y} fontSize={size} fontWeight="bold" fontFamily={FONT} fill="#000">
      ({from}
      <tspan dy={-10} fontSize={17}>o</tspan>
      <tspan dy={10}>-{to}</tspan>
      <tspan dy={-10} fontSize={17}>o</tspan>
      <tspan dy={10}>)</tspan>
    </text>
  </>
);

export default function App() {
  return (
    <div style={{ position: 'absolute', left: 0, top: 0, width: 850, height: 1100, background: '#fff', overflow: 'hidden' }}>
      <Panel top={100} height={308} plotLeft={96} plotTop={118} plotBottom={405} yMajor={10.5} xMajor={7} labelGap={4} showX={false} dense={dDense} loops={dLoops} arrow={dArrow} />
      <Panel top={420} height={329} plotLeft={90} plotTop={435} plotBottom={746} yMajor={14} xMajor={7} labelGap={5} showX={false} dense={eDense} loops={eLoops} arrow={eArrow} />
      <Panel top={768} height={332} plotLeft={81} plotTop={770} plotBottom={1041} yMajor={9} xMajor={8} labelGap={3} showX dense={fDense} loops={fLoops} arrow={fArrow} />
      <svg width={850} height={1100} style={{ position: 'absolute', left: 0, top: 0, pointerEvents: 'none' }}>
        <text x={105} y={162} fontSize={49} fontFamily={FONT} fill="#000">(d)</text>
        <text x={104} y={490} fontSize={49} fontFamily={FONT} fill="#000">(e)</text>
        <text x={90} y={827} fontSize={49} fontFamily={FONT} fill="#000">(f)</text>
        <PhiTitle phiX={314} x={335} y={145} size={26} from="0" to="30" />
        <PhiTitle phiX={324} x={345} y={466} size={24} from="60" to="90" />
        <PhiTitle phiX={282} x={303} y={803} size={24} from="120" to="150" />
        <text x={217} y={1084} fontSize={36} fontFamily={FONT} fill="#000">X (fm)</text>
        <text transform="translate(62,607) rotate(-90)" fontSize={39} fontFamily={FONT} fill="#000">Y (fm)</text>
      </svg>
    </div>
  );
}
